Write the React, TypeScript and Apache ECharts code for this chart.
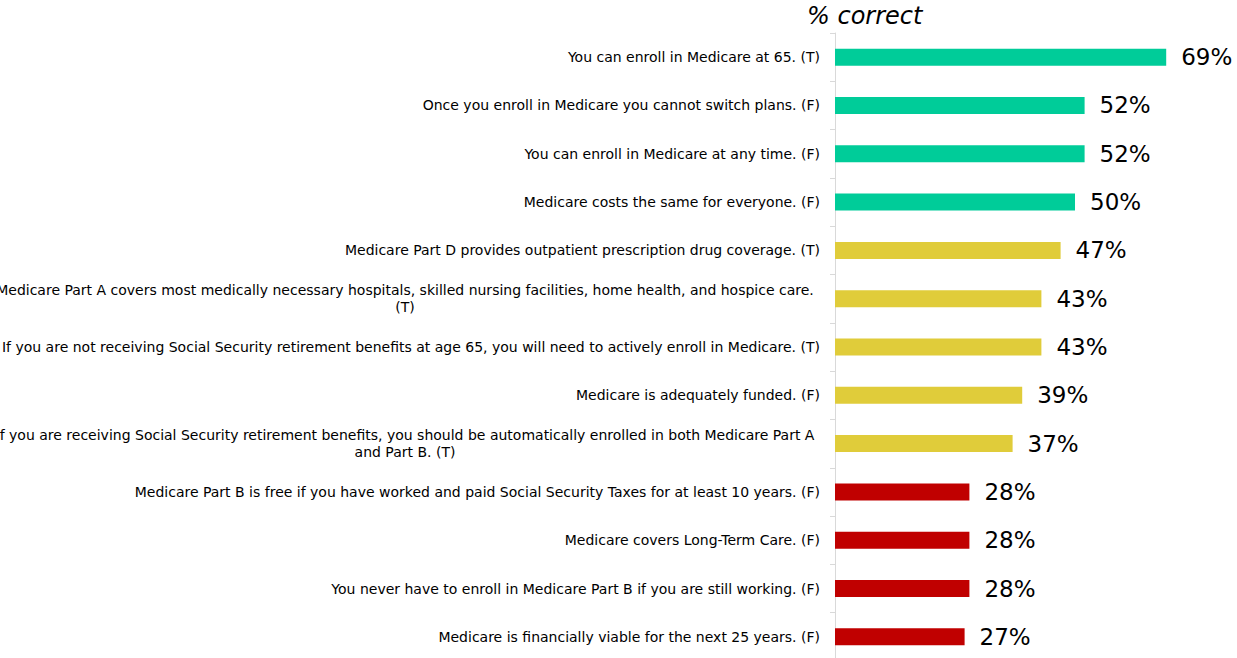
import React, { useEffect, useRef } from "react";
import * as echarts from "echarts";

const categories: string[] = [
  "You can enroll in Medicare at 65. (T)",
  "Once you enroll in Medicare you cannot switch plans. (F)",
  "You can enroll in Medicare at any time. (F)",
  "Medicare costs the same for everyone. (F)",
  "Medicare Part D provides outpatient prescription drug coverage. (T)",
  "Medicare Part A covers most medically necessary hospitals, skilled nursing facilities, home health, and hospice care.\n(T)",
  "If you are not receiving Social Security retirement benefits at age 65, you will need to actively enroll in Medicare. (T)",
  "Medicare is adequately funded. (F)",
  "If you are receiving Social Security retirement benefits, you should be automatically enrolled in both Medicare Part A\nand Part B. (T)",
  "Medicare Part B is free if you have worked and paid Social Security Taxes for at least 10 years. (F)",
  "Medicare covers Long-Term Care. (F)",
  "You never have to enroll in Medicare Part B if you are still working. (F)",
  "Medicare is financially viable for the next 25 years. (F)",
];

const values: number[] = [69, 52, 52, 50, 47, 43, 43, 39, 37, 28, 28, 28, 27];

// group of each statement: 0 = high, 1 = middle, 2 = low
const groups: number[] = [0, 0, 0, 0, 1, 1, 1, 1, 1, 2, 2, 2, 2];
const groupColors: string[] = ["#00CC99", "#E0CC3A", "#C00000"];

const titleText = "% correct";

export default function App() {
  const ref = useRef<HTMLDivElement>(null);
  useEffect(() => {
    if (!ref.current) return;
    const chart = echarts.init(ref.current, undefined, { renderer: "svg" });
    chart.setOption({
      animation: false,
      backgroundColor: "#ffffff",
      title: {
        text: titleText,
        left: 807,
        top: 4,
        padding: 0,
        textStyle: {
          fontFamily: "DejaVu Sans",
          fontStyle: "italic",
          fontWeight: "normal",
          fontSize: 24,
          color: "#000",
        },
      },
      grid: {
        left: 835,
        right: 18,
        top: 33,
        bottom: -3,
        containLabel: false,
        outerBoundsMode: "none",
      },
      xAxis: {
        type: "value",
        min: 0,
        max: 80,
        show: false,
      },
      yAxis: {
        type: "category",
        inverse: true,
        data: categories,
        axisLine: { show: true, lineStyle: { color: "#d9d9d9", width: 1 } },
        axisTick: { show: true, length: 5, lineStyle: { color: "#d9d9d9" } },
        axisLabel: {
          margin: 15,
          color: "#000",
          fontFamily: "DejaVu Sans",
          fontSize: 14,
          lineHeight: 17,
          formatter: (v: string) =>
            v.includes("\n")
              ? v
                  .split("\n")
                  .map((l) => `{w|${l}}`)
                  .join("\n")
              : v,
          rich: {
            w: {
              width: 830,
              align: "center",
              fontFamily: "DejaVu Sans",
              fontSize: 14,
              lineHeight: 17,
              color: "#000",
            },
          },
        },
        splitLine: { show: false },
      },
      series: [
        {
          type: "bar",
          barWidth: 17,
          data: values.map((v, i) => ({
            value: v,
            itemStyle: { color: groupColors[groups[i]] },
          })),
          label: {
            show: true,
            position: "right",
            distance: 15,
            formatter: "{c}%",
            fontFamily: "DejaVu Sans",
            fontSize: 23,
            color: "#000",
          },
        },
      ],
    });
    return () => chart.dispose();
  }, []);
  return (
    <div
      ref={ref}
      style={{ position: "fixed", left: 0, top: 0, width: 1237, height: 658 }}
    />
  );
}
